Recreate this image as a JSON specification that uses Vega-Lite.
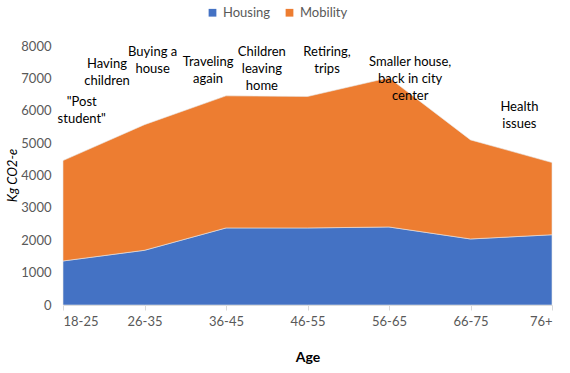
{
  "$schema": "https://vega.github.io/schema/vega-lite/v6.json",
  "width": 489,
  "height": 259,
  "autosize": {"type": "none"},
  "padding": {"left": 63, "top": 46, "right": 18, "bottom": 68},
  "background": "#ffffff",
  "config": {
    "view": {"stroke": null},
    "font": "Lato",
    "axis": {"labelFont": "Lato", "titleFont": "Lato", "labelColor": "#595959", "titleColor": "#000000", "labelFontSize": 13, "grid": false},
    "axisY": {"labelOverlap": false},
    "legend": {"labelFont": "Lato", "labelFontSize": 13, "labelColor": "#595959"}
  },
  "datasets": {
    "emissions": [
      {"idx": 0, "age": "18-25", "series": "Housing", "value": 1360},
      {"idx": 1, "age": "26-35", "series": "Housing", "value": 1690},
      {"idx": 2, "age": "36-45", "series": "Housing", "value": 2380},
      {"idx": 3, "age": "46-55", "series": "Housing", "value": 2380},
      {"idx": 4, "age": "56-65", "series": "Housing", "value": 2410},
      {"idx": 5, "age": "66-75", "series": "Housing", "value": 2040},
      {"idx": 6, "age": "76+", "series": "Housing", "value": 2170},
      {"idx": 0, "age": "18-25", "series": "Mobility", "value": 3100},
      {"idx": 1, "age": "26-35", "series": "Mobility", "value": 3880},
      {"idx": 2, "age": "36-45", "series": "Mobility", "value": 4080},
      {"idx": 3, "age": "46-55", "series": "Mobility", "value": 4060},
      {"idx": 4, "age": "56-65", "series": "Mobility", "value": 4610},
      {"idx": 5, "age": "66-75", "series": "Mobility", "value": 3060},
      {"idx": 6, "age": "76+", "series": "Mobility", "value": 2230}
    ],
    "notes": [
      {"pos": 0.23, "y": 6450, "label": ["\"Post", "student\""]},
      {"pos": 0.54, "y": 7620, "label": ["Having", "children"]},
      {"pos": 1.1, "y": 8000, "label": ["Buying a", "house"]},
      {"pos": 1.78, "y": 7700, "label": ["Traveling", "again"]},
      {"pos": 2.44, "y": 8000, "label": ["Children", "leaving", "home"]},
      {"pos": 3.24, "y": 8000, "label": ["Retiring,", "trips"]},
      {"pos": 4.26, "y": 7690, "label": ["Smaller house,", "back in city", "center"]},
      {"pos": 5.6, "y": 6300, "label": ["Health", "issues"]}
    ]
  },
  "layer": [
    {
      "data": {"name": "emissions"},
      "mark": {"type": "area", "stroke": "#e8e8e8", "strokeWidth": 0.6},
      "encoding": {
        "x": {
          "field": "idx", "type": "quantitative",
          "scale": {"domain": [0, 6], "nice": false},
          "axis": {
            "values": [0, 1, 2, 3, 4, 5, 6],
            "labelExpr": "['18-25','26-35','36-45','46-55','56-65','66-75','76+'][datum.value]",
            "title": "Age", "titleFontWeight": "bold", "titleFontSize": 14, "titlePadding": 22,
            "domainColor": "#d9d9d9", "tickColor": "#d9d9d9", "tickSize": 5, "labelPadding": 5
          }
        },
        "y": {
          "field": "value", "type": "quantitative", "stack": "zero",
          "scale": {"domain": [0, 8000], "nice": false},
          "axis": {
            "values": [0, 1000, 2000, 3000, 4000, 5000, 6000, 7000, 8000],
            "format": "d", "labelOverlap": false,
            "title": "Kg CO2-e", "titleFontStyle": "italic", "titleFontWeight": "normal", "titleFontSize": 13,
            "titleX": -51, "titleY": 129, "titleAngle": -90, "titleAlign": "center", "titleBaseline": "middle",
            "domain": false, "ticks": false, "labelPadding": 12
          }
        },
        "color": {
          "field": "series", "type": "nominal",
          "scale": {"domain": ["Housing", "Mobility"], "range": ["#4472C4", "#ED7D31"]},
          "legend": {"title": null, "orient": "none", "direction": "horizontal", "legendX": 143, "legendY": -40, "symbolType": "square", "symbolSize": 60, "symbolStrokeWidth": 0, "columnPadding": 12, "labelOffset": 4}
        },
        "order": {"field": "series"}
      }
    },
    {
      "data": {"name": "notes"},
      "mark": {"type": "text", "baseline": "top", "align": "center", "fontSize": 13, "lineHeight": 17, "color": "#000000", "font": "Lato"},
      "encoding": {
        "x": {
          "field": "pos", "type": "quantitative",
          "axis": {
            "values": [0, 1, 2, 3, 4, 5, 6],
            "labelExpr": "['18-25','26-35','36-45','46-55','56-65','66-75','76+'][datum.value]",
            "title": "Age", "titleFontWeight": "bold", "titleFontSize": 14, "titlePadding": 22,
            "domainColor": "#d9d9d9", "tickColor": "#d9d9d9", "tickSize": 5, "labelPadding": 5
          }
        },
        "y": {
          "field": "y", "type": "quantitative",
          "axis": {
            "values": [0, 1000, 2000, 3000, 4000, 5000, 6000, 7000, 8000],
            "format": "d", "labelOverlap": false,
            "title": "Kg CO2-e", "titleFontStyle": "italic", "titleFontWeight": "normal", "titleFontSize": 13,
            "titleX": -51, "titleY": 129, "titleAngle": -90, "titleAlign": "center", "titleBaseline": "middle",
            "domain": false, "ticks": false, "labelPadding": 12
          }
        },
        "text": {"field": "label"}
      }
    }
  ]
}
